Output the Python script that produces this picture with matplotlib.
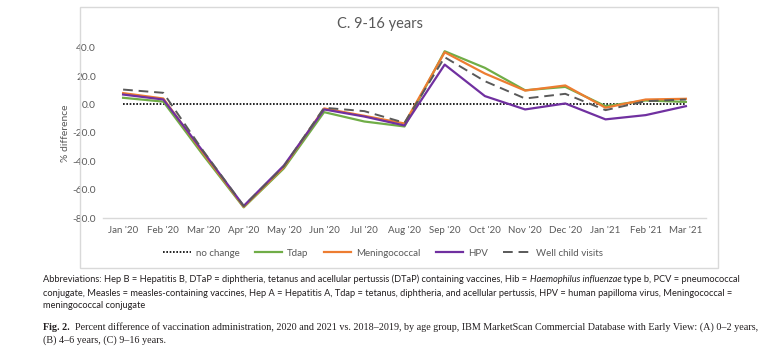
import matplotlib
matplotlib.use("Agg")
import matplotlib.pyplot as plt
from matplotlib.patches import Rectangle
from matplotlib import font_manager as fm

months = ["Jan '20", "Feb '20", "Mar '20", "Apr '20", "May '20", "Jun '20", "Jul '20",
          "Aug '20", "Sep '20", "Oct '20", "Nov '20", "Dec '20", "Jan '21", "Feb '21", "Mar '21"]
no_change = [0.0] * 15
tdap = [4.7, 2.0, -36.0, -72.5, -45.0, -5.4, -12.0, -15.5, 37.5, 25.8, 10.0, 12.4, -1.2, 2.8, 1.8]
mening = [8.0, 4.2, -34.5, -72.0, -44.0, -2.8, -8.0, -13.4, 36.8, 21.8, 9.8, 13.4, -2.3, 3.5, 4.0]
hpv = [7.0, 3.5, -33.5, -71.5, -43.0, -3.5, -8.5, -14.8, 28.1, 5.9, -3.5, 0.7, -10.5, -7.5, -1.2]
well = [10.5, 8.2, -33.0, -71.5, -43.5, -2.3, -4.7, -12.9, 33.3, 16.4, 4.2, 7.5, -4.0, 2.3, 3.5]
yticks = [40, 20, 0, -20, -40, -60, -80]

avail = {f.name for f in fm.fontManager.ttflist}
chart_font = "Lato" if "Lato" in avail else "DejaVu Sans"
abbr_font = chart_font
fig_font = "Liberation Serif" if "Liberation Serif" in avail else "DejaVu Serif"

W, H = 769, 353
fig = plt.figure(figsize=(W / 100, H / 100), dpi=100)

def fx(px):
    return px / W

def fy(py):
    return 1 - py / H

# outer chart border
fig.patches.append(Rectangle((fx(80), fy(268)), fx(718) - fx(80), fy(7) - fy(268),
                             transform=fig.transFigure, fill=False, edgecolor="#D9D9D9", lw=1.0))

ax = fig.add_axes([fx(103), fy(218), fx(706) - fx(103), fy(47.7) - fy(218)])
x = list(range(len(months)))
gray_txt = "#595959"

ax.plot(x, no_change, color="black", lw=1.2, ls=(0, (1, 1)), label="no change")
ax.plot(x, tdap, color="#70AD47", lw=1.6, label="Tdap")
ax.plot(x, mening, color="#ED7D31", lw=1.6, label="Meningococcal")
ax.plot(x, hpv, color="#7030A0", lw=1.6, label="HPV")
ax.plot(x, well, color="#595959", lw=1.4, ls=(0, (5, 3)), label="Well child visits")

ax.set_xlim(-0.5, len(months) - 0.5)
ax.set_ylim(-80, 40)
ax.set_yticks(yticks)
ax.set_yticklabels([f"{v:.1f}" for v in yticks], fontsize=7.3, color=gray_txt, family=chart_font)
ax.set_xticks(x)
ax.set_xticklabels(months, fontsize=7, color=gray_txt, family=chart_font)
ax.tick_params(axis="both", length=0)
ax.tick_params(axis="x", pad=6)
ax.tick_params(axis="y", pad=5)
for s in ["top", "right", "left"]:
    ax.spines[s].set_visible(False)
ax.spines["bottom"].set_color("#D9D9D9")
ax.spines["bottom"].set_linewidth(1.0)
for l in ax.lines:
    l.set_clip_on(False)

ax.set_ylabel("% difference", fontsize=7.5, color=gray_txt, family=chart_font, labelpad=2)

fig.text(fx(380), fy(24), "C. 9-16 years", ha="center", va="center", fontsize=10.5,
         color=gray_txt, family=chart_font)

handles, labels = ax.get_legend_handles_labels()
leg = fig.legend(handles, labels, loc="center", bbox_to_anchor=(fx(383), fy(253)), ncol=5,
                 frameon=False, handlelength=2.8, columnspacing=1.6,
                 handletextpad=0.5, prop={"family": chart_font, "size": 7})
for t in leg.get_texts():
    t.set_color(gray_txt)

# captions
fig.canvas.draw()
renderer = fig.canvas.get_renderer()

def measure(pieces, size, family):
    total = 0
    for txt, style, weight in pieces:
        t = fig.text(0, 0, txt, fontsize=size, family=family, style=style, weight=weight)
        total += t.get_window_extent(renderer=renderer).width
        t.remove()
    return total

def fit_size(pieces, target_w, family, base=7.0):
    w = measure(pieces, base, family)
    return base * target_w / w

def place_pieces(pieces, x0, y0, size, family):
    xcur = x0
    for txt, style, weight in pieces:
        t = fig.text(fx(xcur), fy(y0), txt, ha="left", va="center", fontsize=size,
                     family=family, style=style, weight=weight, color="#231F20")
        xcur += t.get_window_extent(renderer=renderer).width

abbr1 = [
    ("Abbreviations: Hep B = Hepatitis B, DTaP = diphtheria, tetanus and acellular pertussis (DTaP) containing vaccines, Hib = ", "normal", "normal"),
    ("Haemophilus influenzae", "italic", "normal"),
    (" type b, PCV = pneumococcal", "normal", "normal"),
]
abbr2 = [("conjugate, Measles = measles-containing vaccines, Hep A = Hepatitis A, Tdap = tetanus, diphtheria, and acellular pertussis, HPV = human papilloma virus, Meningococcal =", "normal", "normal")]
abbr3 = [("meningococcal conjugate", "normal", "normal")]
fig1 = [
    ("Fig. 2.", "normal", "bold"),
    ("  Percent difference of vaccination administration, 2020 and 2021 vs. 2018\u20132019, by age group, IBM MarketScan Commercial Database with Early View: (A) 0\u20132 years,", "normal", "normal"),
]
fig2 = [("(B) 4\u20136 years, (C) 9\u201316 years.", "normal", "normal")]

s_abbr = fit_size(abbr1, 747 - 43, abbr_font)
s_fig = fit_size(fig1, 757 - 43, fig_font)

place_pieces(abbr1, 43, 279, s_abbr, abbr_font)
place_pieces(abbr2, 43, 293, s_abbr, abbr_font)
place_pieces(abbr3, 43, 306, s_abbr, abbr_font)
place_pieces(fig1, 43, 327, s_fig, fig_font)
place_pieces(fig2, 43, 340, s_fig, fig_font)

fig.savefig("out.png", dpi=100)
